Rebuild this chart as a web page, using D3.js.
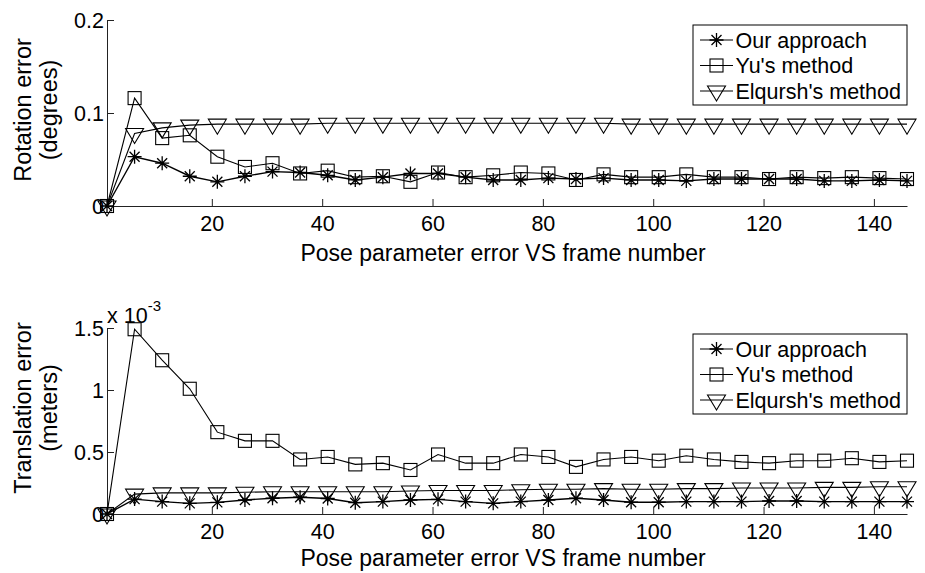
<!DOCTYPE html>
<html>
<head>
<meta charset="utf-8">
<script src="https://cdn.jsdelivr.net/npm/d3@7/dist/d3.min.js"></script>
<style>
  body { margin: 0; background: #fff; }
  svg { display: block; font-family: "Liberation Sans", Arial, sans-serif; }
</style>
</head>
<body>
<svg id="chart" width="925" height="573"></svg>
<script>
// ---------------- data ----------------
const frames = [1,6,11,16,21,26,31,36,41,46,51,56,61,66,71,76,81,86,91,96,101,106,111,116,121,126,131,136,141,146];
const seriesNames = ["Our approach", "Yu's method", "Elqursh's method"];

const rotOurs = [0,0.053,0.046,0.032,0.026,0.032,0.037,0.036,0.033,0.028,0.031,0.035,0.035,0.031,0.028,0.028,0.030,0.029,0.030,0.028,0.028,0.027,0.029,0.029,0.029,0.029,0.027,0.027,0.028,0.027];
const rotYu   = [0,0.116,0.073,0.076,0.053,0.042,0.046,0.035,0.038,0.031,0.032,0.026,0.036,0.031,0.033,0.036,0.035,0.028,0.034,0.031,0.031,0.034,0.031,0.031,0.029,0.031,0.030,0.031,0.030,0.029];
const rotElq  = [0,0.078,0.084,0.087,0.088,0.088,0.088,0.088,0.089,0.089,0.089,0.089,0.089,0.089,0.089,0.089,0.089,0.089,0.089,0.088,0.088,0.088,0.088,0.088,0.088,0.088,0.088,0.088,0.088,0.088];

// translation error, in units of 1e-3 m
const transOurs = [0,0.12,0.10,0.086,0.094,0.113,0.127,0.135,0.125,0.091,0.10,0.113,0.118,0.10,0.086,0.10,0.113,0.127,0.113,0.095,0.095,0.10,0.10,0.10,0.105,0.105,0.10,0.10,0.10,0.10];
const transYu   = [0,1.49,1.24,1.01,0.66,0.59,0.59,0.44,0.46,0.40,0.41,0.355,0.48,0.41,0.41,0.48,0.46,0.38,0.44,0.46,0.43,0.47,0.44,0.42,0.41,0.43,0.43,0.45,0.42,0.43];
const transElq  = [0,0.16,0.17,0.17,0.17,0.175,0.18,0.18,0.18,0.18,0.18,0.185,0.19,0.19,0.19,0.195,0.20,0.20,0.205,0.20,0.20,0.205,0.205,0.21,0.21,0.21,0.215,0.215,0.22,0.22];

const xTicks = [20,40,60,80,100,120,140];
const rotTicks = [0, 0.1, 0.2];
const rotTickLabels = ["0", "0.1", "0.2"];
const transTicks = [0, 0.5, 1, 1.5];
const transTickLabels = ["0", "0.5", "1", "1.5"];

// ---------------- drawing ----------------
const svg = d3.select("#chart");
const markers = ["star", "square", "tri"];

function drawMarker(g, type, x, y) {
  if (type === "square") {
    g.append("rect").attr("x", x - 6.5).attr("y", y - 6.5).attr("width", 13).attr("height", 13)
      .attr("fill", "none").attr("stroke", "#000").attr("stroke-width", 1.1);
  } else if (type === "tri") {
    g.append("path").attr("d", `M${x-9},${y-5}L${x+9},${y-5}L${x},${y+10}Z`)
      .attr("fill", "none").attr("stroke", "#000").attr("stroke-width", 1.1);
  } else {
    const r = 7, d = 5;
    g.append("path").attr("d",
      `M${x-r},${y}L${x+r},${y}M${x},${y-r}L${x},${y+r}M${x-d},${y-d}L${x+d},${y+d}M${x-d},${y+d}L${x+d},${y-d}`)
      .attr("fill", "none").attr("stroke", "#000").attr("stroke-width", 1.3);
  }
}

function panel(cfg) {
  const g = svg.append("g");
  const x = d3.scaleLinear().domain([1, 146]).range([107, 907]);
  const y = d3.scaleLinear().domain(cfg.yDomain).range([cfg.bottom, cfg.top]);

  // axes
  const xAxis = d3.axisBottom(x).tickValues(xTicks).tickSize(-7).tickFormat(d3.format("d")).tickSizeOuter(0);
  const gx = g.append("g").attr("transform", `translate(0,${cfg.bottom})`).call(xAxis);
  gx.select(".domain").attr("stroke", "#222");
  gx.selectAll(".tick line").attr("stroke", "#222");
  gx.selectAll(".tick text").attr("font-size", 21.5).attr("font-family", "Liberation Sans, Arial, sans-serif")
    .attr("fill", "#000").attr("y", 10).attr("dy", "0.71em");

  const yAxis = d3.axisLeft(y).tickValues(cfg.yTicks).tickSize(-7).tickSizeOuter(0)
    .tickFormat((d, i) => cfg.yTickLabels[i]);
  const gy = g.append("g").attr("transform", "translate(107,0)").call(yAxis);
  gy.select(".domain").attr("stroke", "#222");
  gy.selectAll(".tick line").attr("stroke", "#222");
  gy.selectAll(".tick text").attr("font-size", 21.5).attr("font-family", "Liberation Sans, Arial, sans-serif")
    .attr("fill", "#000").attr("x", -3).attr("dy", "0.36em");

  // series
  const line = d3.line().x((d, i) => x(frames[i])).y(d => y(d));
  cfg.series.forEach((vals, s) => {
    g.append("path").datum(vals).attr("d", line).attr("fill", "none")
      .attr("stroke", "#000").attr("stroke-width", s === 0 ? 1.4 : 1.1);
    vals.forEach((v, i) => drawMarker(g, markers[s], x(frames[i]), y(v)));
  });

  // y label
  const ly = g.append("g").attr("transform", `translate(0,${cfg.labelY}) rotate(-90)`);
  ly.append("text").attr("x", 0).attr("y", 31).attr("text-anchor", "middle").attr("font-size", 23.5).text(cfg.ylabel1);
  ly.append("text").attr("x", 0).attr("y", 57).attr("text-anchor", "middle").attr("font-size", 23.5).text(cfg.ylabel2);

  // x label
  g.append("text").attr("x", 503).attr("y", cfg.titleY).attr("text-anchor", "middle")
    .attr("font-size", 23).text("Pose parameter error VS frame number");

  // legend
  const lg = g.append("g").attr("transform", `translate(693,${cfg.legendTop})`);
  lg.append("rect").attr("x", 0).attr("y", 0).attr("width", 214).attr("height", 80)
    .attr("fill", "#fff").attr("stroke", "#000").attr("stroke-width", 1);
  seriesNames.forEach((name, s) => {
    const cy = 15 + s * 25.5;
    lg.append("line").attr("x1", 7).attr("x2", 40).attr("y1", cy).attr("y2", cy).attr("stroke", "#000").attr("stroke-width", 1.1);
    drawMarker(lg, markers[s], 23.5, cy);
    lg.append("text").attr("x", 42.5).attr("y", cy).attr("dy", "0.36em").attr("font-size", 21.5).text(name);
  });
  return g;
}

panel({
  top: 20, bottom: 206, yDomain: [0, 0.2], yTicks: rotTicks, yTickLabels: rotTickLabels,
  series: [rotOurs, rotYu, rotElq], ylabel1: "Rotation error", ylabel2: "(degrees)",
  labelY: 110, legendTop: 25, titleY: 261
});
panel({
  top: 328, bottom: 514, yDomain: [0, 1.5], yTicks: transTicks, yTickLabels: transTickLabels,
  series: [transOurs, transYu, transElq], ylabel1: "Translation error", ylabel2: "(meters)",
  labelY: 408, legendTop: 334, titleY: 566
});

// exponent label
const ex = svg.append("text").attr("x", 107).attr("y", 323).attr("font-size", 21.5);
ex.append("tspan").text("x 10");
ex.append("tspan").attr("font-size", 15).attr("dy", -12).text("-3");
</script>
</body>
</html>
